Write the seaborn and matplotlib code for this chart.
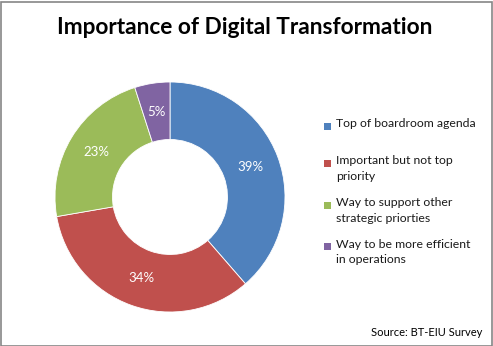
import matplotlib
matplotlib.use("Agg")
import matplotlib.pyplot as plt
import seaborn as sns
from matplotlib.patches import Rectangle

categories = ["Top of boardroom agenda",
              "Important but not top\npriority",
              "Way to support other\nstrategic priorties",
              "Way to be more efficient\nin operations"]
values = [39, 34, 23, 5]
colors = ["#4F81BD", "#C0504D", "#9BBB59", "#8064A2"]
title = "Importance of Digital Transformation"
source = "Source: BT-EIU Survey"

sns.set_style("white")
plt.rcParams['font.family'] = ['Lato', 'DejaVu Sans']

W, H = 493, 346
fig = plt.figure(figsize=(W / 100, H / 100), dpi=100)
fig.patch.set_facecolor("white")

# border
fig.add_artist(Rectangle((0.5 / W, 0.5 / H), 1 - 2 / W, 1 - 2 / H, transform=fig.transFigure,
                         fill=False, edgecolor="#868686", linewidth=1.2))

total = sum(values)
cx, cy, r = 170, 197, 115
ax = fig.add_axes([(cx - r) / W, (H - cy - r) / H, 2 * r / W, 2 * r / H])
wedges, texts, autotexts = ax.pie(values, colors=colors, startangle=90, counterclock=False,
                                  autopct=lambda p: f"{p * total / 100:.0f}%", pctdistance=0.75,
                                  wedgeprops=dict(width=0.5, edgecolor="white", linewidth=0.6),
                                  textprops=dict(color="white", fontsize=9.5))
ax.set_aspect("equal")
ax.set_xlim(-1, 1)
ax.set_ylim(-1, 1)
ax.axis("off")

fig.text(245 / W, 1 - 27 / H, title, ha="center", va="center", fontsize=16.3,
         fontweight="bold", color="black")

leg_y = [126, 163, 205, 246]
for lab, col, y in zip(categories, colors, leg_y):
    fig.add_artist(Rectangle(((327 - 3.5) / W, 1 - (y + 3.5) / H), 7 / W, 7 / H,
                             transform=fig.transFigure, facecolor=col, edgecolor="none"))
    fig.text(336 / W, 1 - (y - 7.5) / H, lab, ha="left", va="top", fontsize=8.8,
             color="#1a1a1a", linespacing=1.55)

fig.text(482 / W, 1 - 333 / H, source, ha="right", va="center", fontsize=8, color="black")

fig.savefig("out.png", dpi=100)
